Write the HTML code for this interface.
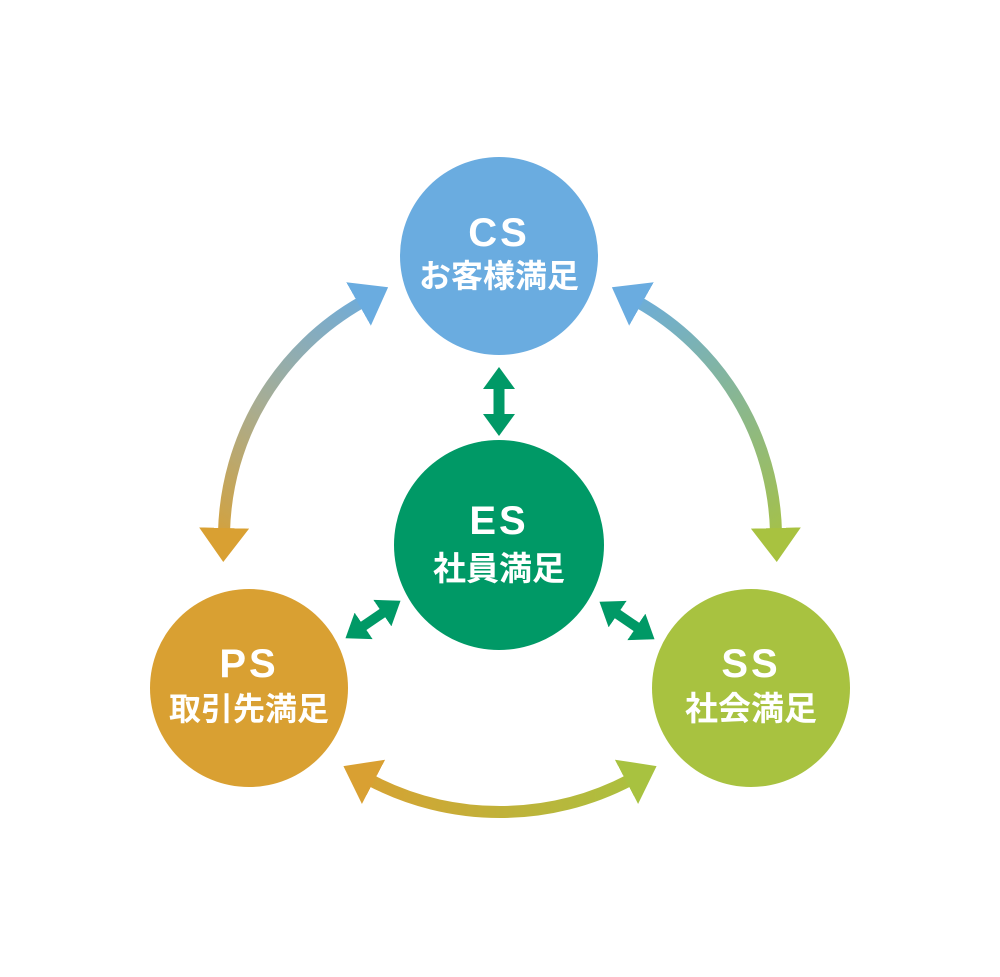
<!DOCTYPE html>
<html><head><meta charset="utf-8"><style>
html,body{margin:0;padding:0;background:#fff;}
svg{display:block;}
text{font-family:"Liberation Sans","Noto Sans CJK JP",sans-serif;font-weight:bold;fill:#fff;text-anchor:middle;}
</style></head><body>
<svg width="1000" height="977" viewBox="0 0 1000 977" xmlns="http://www.w3.org/2000/svg">
<defs>
<linearGradient id="gl" gradientUnits="userSpaceOnUse" x1="380" y1="290" x2="224" y2="560"><stop offset="0" stop-color="#6aace0"/><stop offset="0.5" stop-color="#a6ad95"/><stop offset="1" stop-color="#d9a032"/></linearGradient>
<linearGradient id="gr" gradientUnits="userSpaceOnUse" x1="620" y1="290" x2="776" y2="560"><stop offset="0" stop-color="#6aace0"/><stop offset="1" stop-color="#a8c240"/></linearGradient>
<linearGradient id="gb" gradientUnits="userSpaceOnUse" x1="345" y1="0" x2="655" y2="0"><stop offset="0" stop-color="#d9a032"/><stop offset="1" stop-color="#a8c240"/></linearGradient>
<marker id="mBlue" markerUnits="userSpaceOnUse" markerWidth="60" markerHeight="60" refX="4" refY="25" orient="auto-start-reverse"><path d="M0,0 L34,25 L0,50 Z" fill="#6aace0"/></marker>
<marker id="mOr" markerUnits="userSpaceOnUse" markerWidth="60" markerHeight="60" refX="4" refY="25" orient="auto-start-reverse"><path d="M0,0 L34,25 L0,50 Z" fill="#d9a032"/></marker>
<marker id="mGr" markerUnits="userSpaceOnUse" markerWidth="60" markerHeight="60" refX="4" refY="25" orient="auto-start-reverse"><path d="M0,0 L34,25 L0,50 Z" fill="#a8c240"/></marker>
<marker id="mG" markerUnits="userSpaceOnUse" markerWidth="40" markerHeight="40" refX="2" refY="16" orient="auto-start-reverse"><path d="M0,0 L22,16 L0,32 Z" fill="#009966"/></marker>
</defs>
<path d="M224,532 A272,272 0 0 1 362,302" fill="none" stroke="url(#gl)" stroke-width="12" marker-start="url(#mOr)" marker-end="url(#mBlue)"/>
<path d="M638,302 A272,272 0 0 1 776,532" fill="none" stroke="url(#gr)" stroke-width="12" marker-start="url(#mBlue)" marker-end="url(#mGr)"/>
<path d="M630,780 A280,280 0 0 1 370,780" fill="none" stroke="url(#gb)" stroke-width="12" marker-start="url(#mGr)" marker-end="url(#mOr)"/>
<path d="M499,387 L499,416" stroke="#009966" stroke-width="11" marker-start="url(#mG)" marker-end="url(#mG)"/>
<path d="M362,627 L384,612" stroke="#009966" stroke-width="10" marker-start="url(#mG)" marker-end="url(#mG)"/>
<path d="M616,613 L638,628" stroke="#009966" stroke-width="10" marker-start="url(#mG)" marker-end="url(#mG)"/>
<circle cx="499" cy="256" r="99" fill="#6aace0"/>
<circle cx="499" cy="545" r="105" fill="#009966"/>
<circle cx="249" cy="688" r="99" fill="#d9a032"/>
<circle cx="751" cy="688" r="99" fill="#a8c240"/>
<text x="499" y="246" font-size="40" letter-spacing="3">CS</text>
<text x="499" y="287" font-size="32">お客様満足</text>
<text x="499" y="534" font-size="40" letter-spacing="3">ES</text>
<text x="499" y="580" font-size="33">社員満足</text>
<text x="249" y="677" font-size="40" letter-spacing="3">PS</text>
<text x="249" y="720" font-size="32">取引先満足</text>
<text x="751" y="677" font-size="40" letter-spacing="3">SS</text>
<text x="751" y="720" font-size="33">社会満足</text>
</svg>
</body></html>
